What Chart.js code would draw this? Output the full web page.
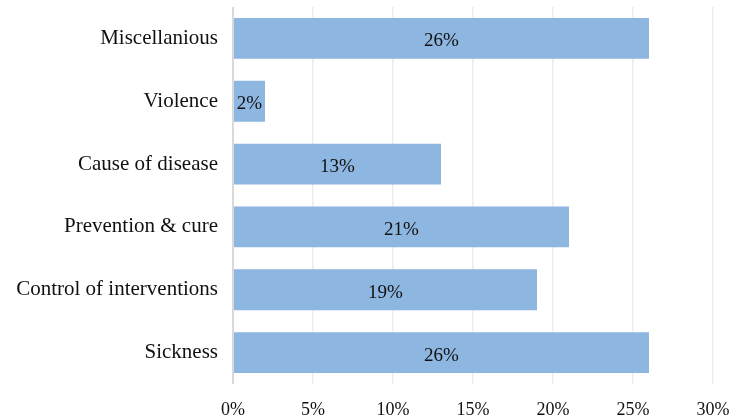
<!DOCTYPE html>
<html>
<head>
<meta charset="utf-8">
<script src="https://cdn.jsdelivr.net/npm/chart.js@4/dist/chart.umd.min.js"></script>
<style>
  html, body { margin: 0; padding: 0; background: #fff; }
  #wrap { width: 732px; height: 418px; }
</style>
</head>
<body>
<div id="wrap"><canvas id="barchart" width="732" height="418"></canvas></div>
<script>
const categories = ['Miscellanious', 'Violence', 'Cause of disease', 'Prevention & cure', 'Control of interventions', 'Sickness'];
const shares = [26, 2, 13, 21, 19, 26];
const xTicks = [0, 5, 10, 15, 20, 25, 30];

const fontFamily = '"Liberation Serif", "Times New Roman", serif';

// simple centred labels inside bars
const barLabels = {
    id: 'barLabels',
    afterDatasetsDraw(chart) {
        const ctx = chart.ctx;
        const meta = chart.getDatasetMeta(0);
        ctx.save();
        ctx.font = '19px ' + fontFamily;
        ctx.fillStyle = '#111';
        ctx.textAlign = 'center';
        ctx.textBaseline = 'middle';
        meta.data.forEach((bar, i) => {
            const x = (bar.x + bar.base) / 2;
            ctx.fillText(shares[i] + '%', x, bar.y + 3);
        });
        ctx.restore();
    }
};

const ctx = document.getElementById('barchart').getContext('2d');
new Chart(ctx, {
    type: 'bar',
    data: {
        labels: categories,
        datasets: [{
            data: shares,
            backgroundColor: '#8db6e0',
            borderWidth: 0,
            categoryPercentage: 1,
            barPercentage: 0.65
        }]
    },
    options: {
        indexAxis: 'y',
        responsive: false,
        animation: false,
        layout: { padding: { top: 7, right: 19, bottom: 0, left: 0 } },
        plugins: {
            legend: { display: false },
            tooltip: { enabled: false }
        },
        scales: {
            x: {
                min: 0,
                max: 30,
                afterBuildTicks(scale) {
                    scale.ticks = xTicks.map(v => ({ value: v }));
                },
                afterFit(scale) {
                    scale.height = 34;
                    scale.paddingLeft = 0;
                    scale.paddingRight = 0;
                },
                grid: {
                    color(c) { return c.tick && c.tick.value === 0 ? '#d9d9d9' : '#ececec'; },
                    lineWidth(c) { return c.tick && c.tick.value === 0 ? 2 : 1.5; },
                    drawTicks: false
                },
                border: { display: false },
                ticks: {
                    padding: 15,
                    color: '#111',
                    font: { family: fontFamily, size: 18 },
                    callback: v => v + '%'
                }
            },
            y: {
                afterFit(scale) {
                    scale.width = 233;
                    scale.paddingTop = 0;
                    scale.paddingBottom = 0;
                },
                grid: { display: false, drawTicks: false },
                border: { display: false },
                ticks: {
                    padding: 15,
                    color: '#111',
                    font: { family: fontFamily, size: 21 }
                }
            }
        }
    },
    plugins: [barLabels]
});
</script>
</body>
</html>
